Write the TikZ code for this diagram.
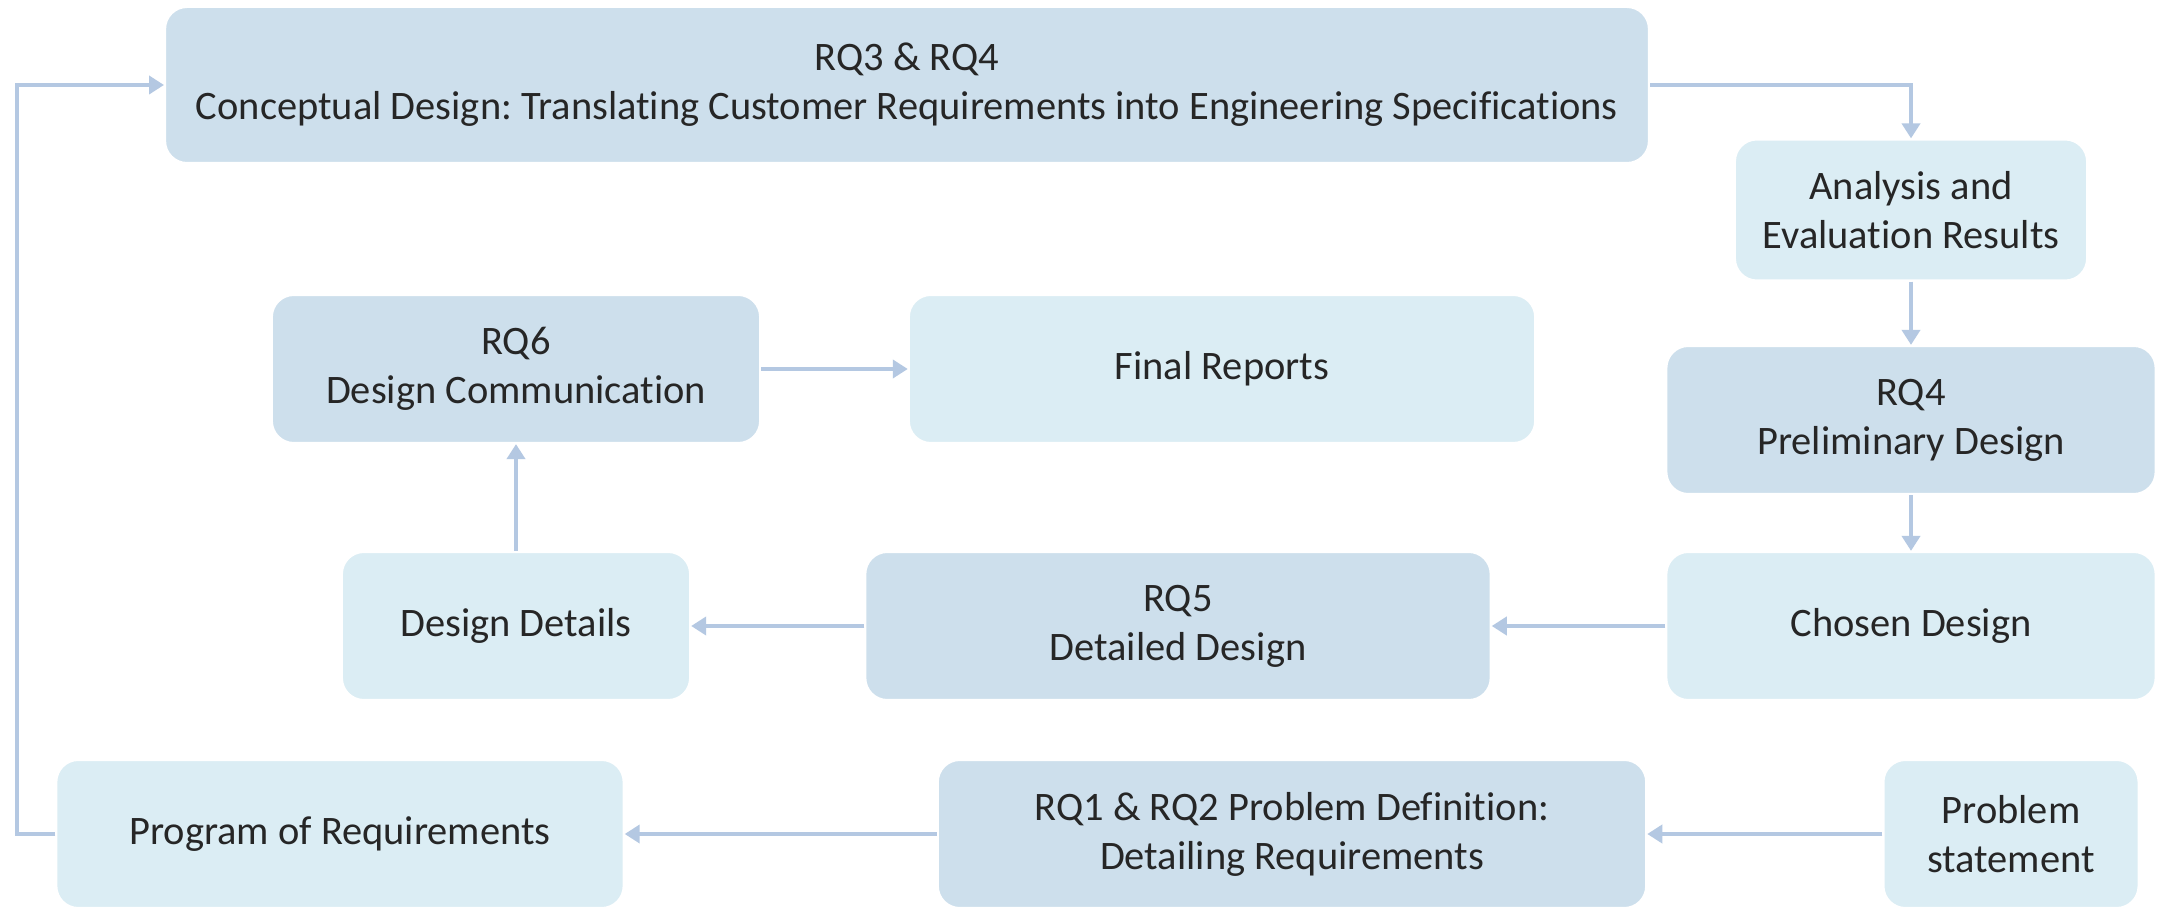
\documentclass[tikz,border=0pt]{standalone}
\usepackage{fontspec}
\setmainfont{Carlito}[Ligatures={NoCommon}]
\usetikzlibrary{arrows.meta}
\definecolor{darkbox}{HTML}{CDDFEC}
\definecolor{lightbox}{HTML}{DBEDF4}
\definecolor{arrowc}{HTML}{B4C8E2}
\frenchspacing
\begin{document}
\begin{tikzpicture}[x=0.01cm,y=-0.01cm,
  box/.style={rounded corners=0.22cm, draw=white, line width=0.6pt, inner sep=0pt, align=center,
    font=\fontsize{11.5}{13.9}\selectfont, text=black!85},
  dbox/.style={box, fill=darkbox},
  lbox/.style={box, fill=lightbox},
  conn/.style={draw=arrowc, line width=1.3pt, -{Triangle[length=0.15cm,width=0.18cm]}}]
\useasboundingbox (0,0) rectangle (2164,907);
\fill[white] (0,0) rectangle (2164,907);

\node[dbox, minimum width=14.83cm, minimum height=1.56cm] (c) at (907,85)
  {RQ3 \& RQ4\\Conceptual Design: Translating Customer Requirements into Engineering Specifications};
\node[lbox, minimum width=3.52cm, minimum height=1.41cm] (a) at (1911,210)
  {Analysis and\\Evaluation Results};
\node[dbox, minimum width=4.89cm, minimum height=1.48cm] (p) at (1911,420)
  {RQ4\\Preliminary Design};
\node[lbox, minimum width=4.89cm, minimum height=1.48cm] (cd) at (1911,626)
  {Chosen Design};
\node[dbox, minimum width=6.25cm, minimum height=1.48cm] (dd) at (1178,626)
  {RQ5\\Detailed Design};
\node[lbox, minimum width=3.48cm, minimum height=1.48cm] (ded) at (516,626)
  {Design Details};
\node[dbox, minimum width=4.88cm, minimum height=1.48cm] (rq6) at (516,369)
  {RQ6\\Design Communication};
\node[lbox, minimum width=6.26cm, minimum height=1.48cm] (fr) at (1222,369)
  {Final Reports};
\node[lbox, minimum width=2.55cm, minimum height=1.48cm] (ps) at (2011,834)
  {Problem\\statement};
\node[dbox, minimum width=7.08cm, minimum height=1.48cm] (pd) at (1292,834)
  {RQ1 \& RQ2 Problem Definition:\\Detailing Requirements};
\node[lbox, minimum width=5.67cm, minimum height=1.48cm] (por) at (340,834)
  {Program of Requirements};

\coordinate (lb) at (17,834);
\coordinate (lt) at (17,85);

\draw[conn] (c.east) -| (a.north);
\draw[conn] (a) -- (p);
\draw[conn] (p) -- (cd);
\draw[conn] (cd) -- (dd);
\draw[conn] (dd) -- (ded);
\draw[conn] (ded) -- (rq6);
\draw[conn] (rq6) -- (fr);
\draw[conn] (ps) -- (pd);
\draw[conn] (pd) -- (por);
\draw[conn] (por.west) -- (lb) -- (lt) -- (c.west);
\end{tikzpicture}
\end{document}
